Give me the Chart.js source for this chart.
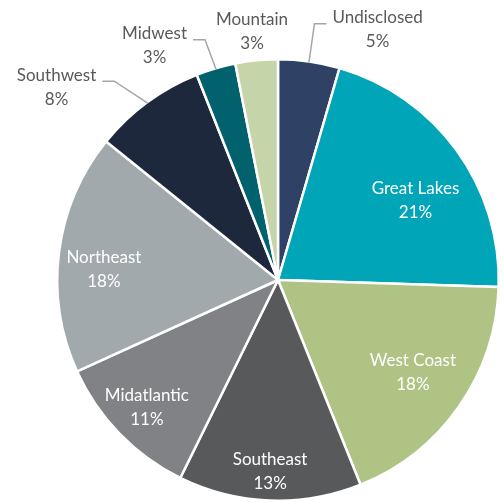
<!DOCTYPE html>
<html>
<head>
<meta charset="utf-8">
<script src="https://cdn.jsdelivr.net/npm/chart.js@4/dist/chart.umd.min.js"></script>
<style>
  html, body { margin: 0; padding: 0; background: #fff; }
  #wrap { width: 503px; height: 502px; }
</style>
</head>
<body>
<div id="wrap"><canvas id="pie" width="503" height="502"></canvas></div>
<script>
// region shares (%), clockwise from 12 o'clock
const regions = ['Undisclosed', 'Great Lakes', 'West Coast', 'Southeast', 'Midatlantic',
                 'Northeast', 'Southwest', 'Midwest', 'Mountain'];
const shares  = [4.5, 21, 18.4, 13.4, 10.9, 17.6, 8.2, 2.9, 3.1];

const sliceColors = ['#2f4164', '#00a5b8', '#aec384', '#58595b', '#808285',
                     '#a2a9ac', '#1e283d', '#01626e', '#c6d4a9'];

// label placement: radius factor, angle shift (deg), inside or outside
const labelPlace = [
  { r: 1.22, da: 13.6, out: true, side: 'right' },
  { r: 0.72, da: 5.9 },
  { r: 0.74, da: -0.6 },
  { r: 0.87, da: 0.2 },
  { r: 0.83, da: -0.2 },
  { r: 0.79, da: -3.9 },
  { r: 1.33, da: -12.6, out: true, side: 'left' },
  { r: 1.20, da: -11.4, out: true, side: 'left' },
  { r: 1.13, da: -0.4, out: true, side: 'none' },
];

const FONT = '17px Lato';
const LINE_H = 24;

const pieLabels = {
  id: 'pieLabels',
  afterDatasetsDraw(chart) {
    const ctx = chart.ctx;
    const meta = chart.getDatasetMeta(0);
    ctx.save();
    ctx.font = FONT;
    ctx.textAlign = 'center';
    ctx.textBaseline = 'middle';
    meta.data.forEach((arc, i) => {
      const p = labelPlace[i];
      const R = arc.outerRadius;
      const mid = (arc.startAngle + arc.endAngle) / 2;
      const a = mid + p.da * Math.PI / 180;
      const cx = arc.x + Math.cos(a) * R * p.r;
      const cy = arc.y + Math.sin(a) * R * p.r;
      const pct = Math.round(shares[i]) + '%';

      if (p.out && p.side !== 'none') {
        const w = ctx.measureText(regions[i]).width;
        const ly = cy - 6;
        const dir = p.side === 'left' ? 1 : -1;
        const x0 = cx + dir * (w / 2 + 6);
        const x1 = x0 + dir * 12;
        const ex = arc.x + Math.cos(mid) * (R - 1);
        const ey = arc.y + Math.sin(mid) * (R - 1);
        ctx.strokeStyle = '#a6a6a6';
        ctx.lineWidth = 1.5;
        ctx.beginPath();
        ctx.moveTo(x0, ly);
        ctx.lineTo(x1, ly);
        ctx.lineTo(ex, ey);
        ctx.stroke();
      }

      ctx.fillStyle = p.out ? '#595959' : '#ffffff';
      ctx.fillText(regions[i], cx, cy - LINE_H / 2);
      ctx.fillText(pct, cx, cy + LINE_H / 2);
    });
    ctx.restore();
  }
};

new Chart(document.getElementById('pie'), {
  type: 'pie',
  data: {
    labels: regions,
    datasets: [{
      data: shares,
      backgroundColor: sliceColors,
      borderColor: '#ffffff',
      borderWidth: 2.5,
      hoverOffset: 0,
    }],
  },
  options: {
    responsive: false,
    animation: false,
    layout: { padding: { left: 56, right: 3, top: 58, bottom: 0 } },
    plugins: {
      legend: { display: false },
      tooltip: { enabled: false },
    },
  },
  plugins: [pieLabels],
});
</script>
</body>
</html>
